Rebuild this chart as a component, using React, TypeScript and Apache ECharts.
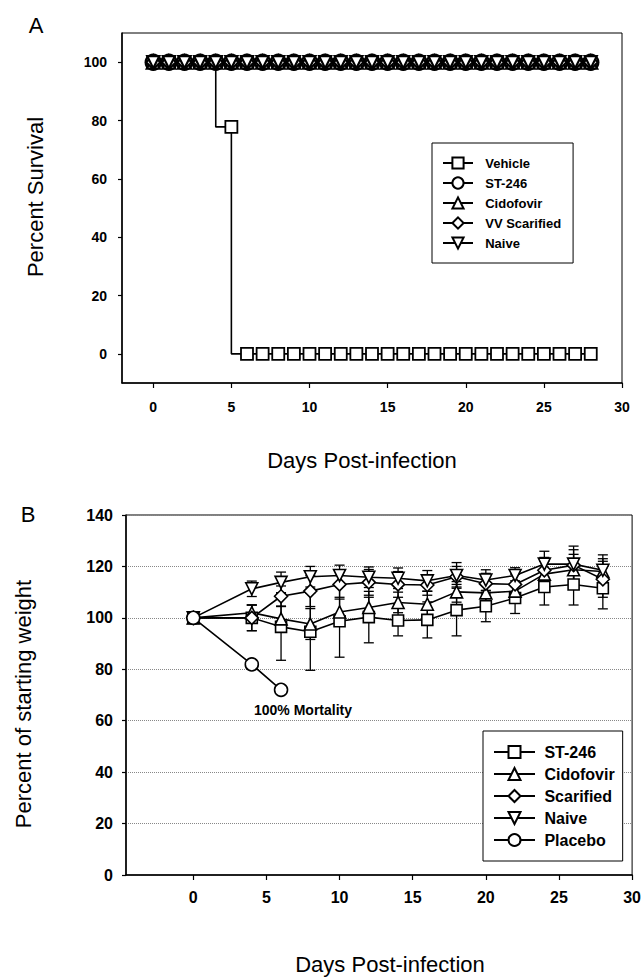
import React, { useEffect, useRef } from 'react';
import * as echarts from 'echarts';

const FONT = '"Liberation Sans", Arial, Helvetica, sans-serif';

// ---------- Panel A: survival ----------
const survivalDays = [0, 1, 2, 3, 4, 5, 6, 7, 8, 9, 10, 11, 12, 13, 14, 15, 16, 17, 18, 19, 20, 21, 22, 23, 24, 25, 26, 27, 28];
const vehicleSurvival = [100, 100, 100, 100, 100, 77.8, 0, 0, 0, 0, 0, 0, 0, 0, 0, 0, 0, 0, 0, 0, 0, 0, 0, 0, 0, 0, 0, 0, 0];
const st246Survival = [100, 100, 100, 100, 100, 100, 100, 100, 100, 100, 100, 100, 100, 100, 100, 100, 100, 100, 100, 100, 100, 100, 100, 100, 100, 100, 100, 100, 100];
const cidofovirSurvival = [100, 100, 100, 100, 100, 100, 100, 100, 100, 100, 100, 100, 100, 100, 100, 100, 100, 100, 100, 100, 100, 100, 100, 100, 100, 100, 100, 100, 100];
const scarifiedSurvival = [100, 100, 100, 100, 100, 100, 100, 100, 100, 100, 100, 100, 100, 100, 100, 100, 100, 100, 100, 100, 100, 100, 100, 100, 100, 100, 100, 100, 100];
const naiveSurvival = [100, 100, 100, 100, 100, 100, 100, 100, 100, 100, 100, 100, 100, 100, 100, 100, 100, 100, 100, 100, 100, 100, 100, 100, 100, 100, 100, 100, 100];
const survivalTicksX = [0, 5, 10, 15, 20, 25, 30];
const survivalTicksY = [0, 20, 40, 60, 80, 100];
const survivalLegend = ['Vehicle', 'ST-246', 'Cidofovir', 'VV Scarified', 'Naive'];

// ---------- Panel B: weight ----------
const weightDays = [0, 4, 6, 8, 10, 12, 14, 16, 18, 20, 22, 24, 26, 28];
const st246Weight = [100, 100, 96.5, 94.6, 98.7, 100.3, 99, 99.2, 103, 104.5, 107.7, 112, 113, 111.5];
const st246Err = [0, 5, 13, 15, 14, 10, 6, 7, 10, 6, 6, 7, 8, 8];
const cidofovirWeight = [100, 102, 99.6, 97.6, 102.3, 104, 106, 105.3, 110.1, 109.7, 110.4, 117, 118.7, 118];
const cidofovirErr = [0, 3, 5, 6, 5, 4, 4, 5, 4, 4, 4, 5, 6, 5];
const scarifiedWeight = [100, 100, 108.4, 110.4, 113, 113.8, 113, 112.8, 116, 113.3, 113, 118.5, 120.5, 115];
const scarifiedErr = [0, 5, 4, 6, 5, 5, 5, 4, 4, 4, 4, 5, 6, 7];
const naiveWeight = [100, 111.3, 113.8, 116, 116.5, 115.8, 115.4, 114.4, 116.5, 114.7, 116.5, 120.9, 120.9, 118.5];
const naiveErr = [0, 3, 4, 4, 4, 4, 4, 4, 5, 4, 3, 5, 7, 6];
const placeboDays = [0, 4, 6];
const placeboWeight = [100, 81.9, 72];
const weightTicksX = [0, 5, 10, 15, 20, 25, 30];
const weightLegend = ['ST-246', 'Cidofovir', 'Scarified', 'Naive', 'Placebo'];

const pairs = (xs: number[], ys: number[]) => xs.map((x, i) => [x, ys[i]]);

function lineSeries(name: string, xs: number[], ys: number[], symbol: string, size: number, rotate = 0, bw = 1.6, extra: any = {}) {
  return {
    type: 'line',
    name,
    data: pairs(xs, ys),
    symbol,
    symbolSize: size,
    symbolRotate: rotate,
    showSymbol: true,
    showAllSymbol: true,
    lineStyle: { color: '#000', width: 1.6 },
    itemStyle: { color: '#fff', borderColor: '#000', borderWidth: bw },
    emphasis: { disabled: true },
    silent: true,
    z: 3,
    ...extra,
  };
}

function errSeries(xs: number[], ys: number[], es: number[]) {
  return {
    type: 'custom',
    name: 'err',
    data: xs.map((x, i) => [x, ys[i], es[i]]),
    encode: { x: 0, y: 1 },
    silent: true,
    z: 1,
    renderItem: (params: any, api: any) => {
      const x = api.value(0);
      const y = api.value(1);
      const e = api.value(2);
      if (!e) return null;
      const t = api.coord([x, y + e]);
      const b = api.coord([x, y - e]);
      const hw = 5;
      const st = { stroke: '#000', lineWidth: 1.3 };
      return {
        type: 'group',
        children: [
          { type: 'line', shape: { x1: t[0], y1: t[1], x2: b[0], y2: b[1] }, style: st },
          { type: 'line', shape: { x1: t[0] - hw, y1: t[1], x2: t[0] + hw, y2: t[1] }, style: st },
          { type: 'line', shape: { x1: b[0] - hw, y1: b[1], x2: b[0] + hw, y2: b[1] }, style: st },
        ],
      };
    },
  };
}

const txt = (text: string, x: number, y: number, size: number, weight = 'normal', rotation = 0) => ({
  type: 'text',
  x,
  y,
  rotation,
  silent: true,
  style: {
    text,
    fill: '#000',
    fontFamily: FONT,
    fontSize: size,
    fontWeight: weight,
    textAlign: 'center',
    textVerticalAlign: 'middle',
  },
});

const axisCommon = (labelSize: number, margin: number, tickLen: number) => ({
  type: 'value',
  axisLine: { show: true, onZero: false, lineStyle: { color: '#000', width: 1.5 } },
  axisLabel: { color: '#000', fontFamily: FONT, fontWeight: 'bold', fontSize: labelSize, margin },
  axisTick: { show: true, inside: false, length: tickLen, lineStyle: { color: '#000', width: 1.2 } },
});

function optionA() {
  const xa: any = axisCommon(14, 17, 5);
  const ya: any = axisCommon(14, 15, 4);
  return {
    animation: false,
    grid: { left: 122, top: 33, width: 500, height: 350, show: true, borderColor: '#000', borderWidth: 1, backgroundColor: 'transparent' },
    xAxis: {
      ...xa,
      min: -2,
      max: 30,
      axisLabel: { ...xa.axisLabel, customValues: survivalTicksX },
      axisTick: { ...xa.axisTick, customValues: survivalTicksX },
      splitLine: { show: false },
    },
    yAxis: {
      ...ya,
      min: -10,
      max: 110,
      axisLabel: { ...ya.axisLabel, customValues: survivalTicksY },
      axisTick: { ...ya.axisTick, customValues: survivalTicksY },
      splitLine: { show: false },
    },
    legend: {
      orient: 'vertical',
      left: 432,
      top: 143,
      data: survivalLegend,
      itemWidth: 30,
      itemHeight: 14,
      itemGap: 6,
      padding: [13, 12, 13, 10],
      backgroundColor: '#fff',
      borderColor: '#000',
      borderWidth: 1,
      selectedMode: false,
      formatter: (n: string) => '  ' + n,
      textStyle: { fontFamily: FONT, fontWeight: 'bold', fontSize: 13, color: '#000', lineHeight: 14 },
    },
    series: [
      lineSeries('Vehicle', survivalDays, vehicleSurvival, 'rect', 12, 0, 1.8, { step: 'start' }),
      lineSeries('ST-246', survivalDays, st246Survival, 'circle', 15, 0, 2.4),
      lineSeries('Cidofovir', survivalDays, cidofovirSurvival, 'triangle', 13, 0, 2.2),
      lineSeries('VV Scarified', survivalDays, scarifiedSurvival, 'diamond', 14, 0, 2.2),
      lineSeries('Naive', survivalDays, naiveSurvival, 'triangle', 12, 180, 2.2),
    ],
    graphic: [
      txt('A', 36, 25, 22),
      txt('Percent Survival', 35, 197, 22, 'normal', Math.PI / 2),
      txt('Days Post-infection', 362, 460, 22),
    ],
  };
}

function optionB() {
  const xa: any = axisCommon(16, 14, 5);
  const ya: any = axisCommon(16, 13, 4);
  return {
    animation: false,
    grid: { left: 126, top: 25, right: 11, bottom: 102, show: true, borderColor: '#000', borderWidth: 1, backgroundColor: 'transparent' },
    xAxis: {
      ...xa,
      min: -4.6,
      max: 30,
      axisLabel: { ...xa.axisLabel, customValues: weightTicksX },
      axisTick: { ...xa.axisTick, customValues: weightTicksX },
      splitLine: { show: false },
    },
    yAxis: {
      ...ya,
      min: 0,
      max: 140,
      interval: 20,
      splitLine: { show: true, lineStyle: { type: 'dotted', color: '#888', width: 1 } },
    },
    legend: {
      orient: 'vertical',
      left: 483,
      top: 241,
      data: weightLegend,
      itemWidth: 41,
      itemHeight: 15,
      itemGap: 6,
      padding: [13, 8, 13, 10],
      backgroundColor: '#fff',
      borderColor: '#000',
      borderWidth: 1,
      selectedMode: false,
      formatter: (n: string) => ' ' + n,
      textStyle: { fontFamily: FONT, fontWeight: 'bold', fontSize: 16, color: '#000', lineHeight: 15 },
    },
    series: [
      errSeries(weightDays, st246Weight, st246Err),
      errSeries(weightDays, cidofovirWeight, cidofovirErr),
      errSeries(weightDays, scarifiedWeight, scarifiedErr),
      errSeries(weightDays, naiveWeight, naiveErr),
      lineSeries('ST-246', weightDays, st246Weight, 'rect', 11),
      lineSeries('Cidofovir', weightDays, cidofovirWeight, 'triangle', 12),
      lineSeries('Scarified', weightDays, scarifiedWeight, 'diamond', 13),
      lineSeries('Naive', weightDays, naiveWeight, 'triangle', 12, 180),
      lineSeries('Placebo', placeboDays, placeboWeight, 'circle', 13),
    ],
    graphic: [
      txt('B', 28, 24, 22),
      txt('Percent of starting weight', 23, 214, 22, 'normal', Math.PI / 2),
      txt('Days Post-infection', 390, 474, 22),
      txt('100% Mortality', 303, 220, 14, 'bold'),
    ],
  };
}

function Chart({ option, top, height }: { option: any; top: number; height: number }) {
  const ref = useRef<HTMLDivElement>(null);
  useEffect(() => {
    if (!ref.current) return;
    const chart = echarts.init(ref.current, null, { renderer: 'svg' });
    chart.setOption(option);
    return () => chart.dispose();
  }, []);
  return <div ref={ref} style={{ position: 'absolute', left: 0, top, width: 644, height }} />;
}

export default function App() {
  return (
    <div style={{ position: 'fixed', left: 0, top: 0, width: 644, height: 977, background: '#fff', overflow: 'hidden' }}>
      <Chart option={optionA()} top={0} height={490} />
      <Chart option={optionB()} top={490} height={487} />
    </div>
  );
}
